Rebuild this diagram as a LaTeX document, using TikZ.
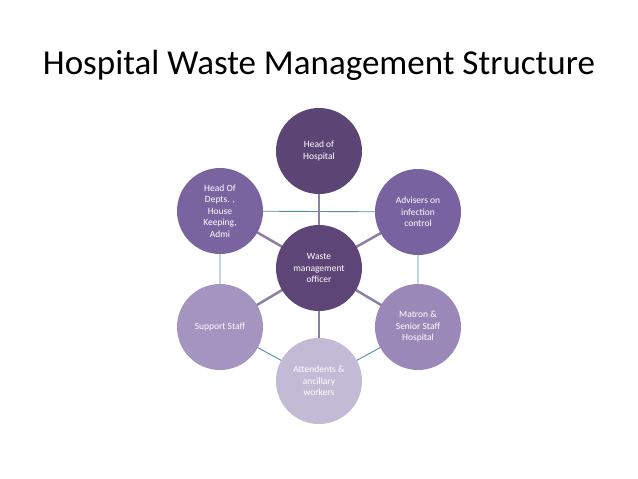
\documentclass[tikz,border=0pt]{standalone}
\usepackage{fontspec}
\setmainfont{Carlito}
\usetikzlibrary{backgrounds}
\tikzset{
  bubble/.style={circle, minimum size=86pt, inner sep=1pt, align=center,
    text=white, font=\fontsize{9.5}{11.5}\selectfont},
  spoke/.style={draw=spokegray, line width=2.5pt},
  ring/.style={draw=ringblue, line width=0.9pt}
}
\definecolor{spokegray}{HTML}{8C7FA5}
\definecolor{ringblue}{HTML}{4F8FA8}
\begin{document}
\begin{tikzpicture}[x=1pt,y=-1pt]
\useasboundingbox (0,0) rectangle (638,479);
\node[font=\fontsize{35}{40}\selectfont, anchor=base] (title) at (319,74) {Hospital Waste Management Structure};
% outer bubbles
\node[bubble, fill={rgb,255:red,91;green,69;blue,117}] (head) at (319,151) {Head of\\Hospital};
\node[bubble, fill={rgb,255:red,120;green,98;blue,160}] (adv) at (418,212) {Advisers on\\infection\\control};
\node[bubble, fill={rgb,255:red,154;green,136;blue,184}] (matron) at (418,327) {Matron \&\\Senior Staff\\Hospital};
\node[bubble, fill={rgb,255:red,195;green,186;blue,214}] (att) at (319,381) {Attendents \&\\ancillary\\workers};
\node[bubble, fill={rgb,255:red,163;green,148;blue,192}] (support) at (220,327) {Support Staff};
\node[bubble, fill={rgb,255:red,122;green,100;blue,160}] (depts) at (220,211) {Head Of\\Depts. ,\\House\\Keeping,\\Admi};
\node[bubble, fill={rgb,255:red,93;green,70;blue,119}] (officer) at (319,268) {Waste\\management\\officer};
% connectors
\begin{scope}[on background layer]
\draw[ring] (depts.center) -- (adv.center) -- (matron.center) -- (att.center)
  -- (support.center) -- (depts.center);
\foreach \n in {head,adv,matron,att,support,depts}
  \draw[spoke] (officer.center) -- (\n.center);
\end{scope}
\end{tikzpicture}
\end{document}
